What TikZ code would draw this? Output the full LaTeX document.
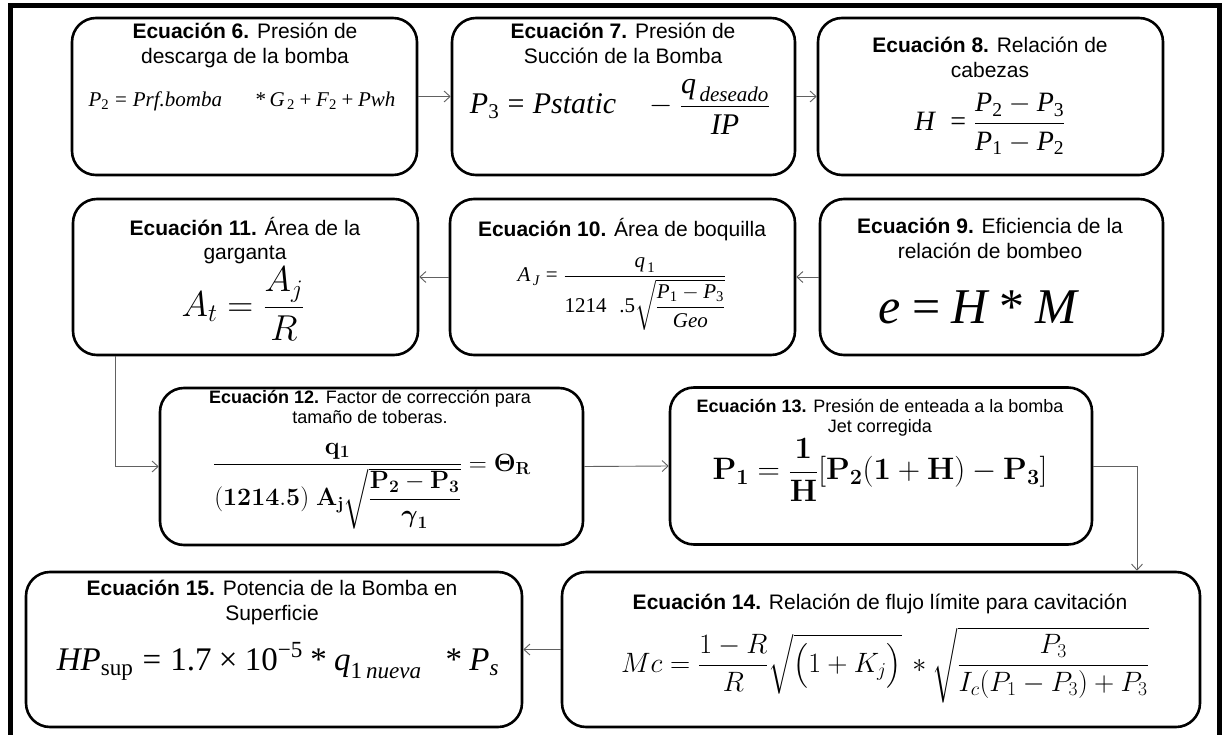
\RequirePackage{fix-cm}
\documentclass[tikz,border=0pt]{standalone}
\usepackage{amsmath}
\usepackage[no-math]{fontspec}
\setmainfont{Liberation Sans}
\newfontfamily\tms{Liberation Serif}
\usetikzlibrary{arrows.meta}
\newcommand\sz[1]{\fontsize{#1}{#1}\selectfont}
\newcommand\ti[1]{\text{\tms\itshape #1}}
\newcommand\tr[1]{\text{\tms\upshape #1}}
\tikzset{
  eqbox/.style={draw=black, line width=2.6pt, rounded corners=24pt, inner sep=0pt},
  conn/.style={draw=black!62, line width=0.9pt, -{Straight Barb[length=6pt,width=11pt]}},
  ttl/.style={align=center, anchor=north, inner sep=0pt, font=\fontsize{21}{24.5}\selectfont},
  ttlsm/.style={align=center, anchor=north, inner sep=0pt, font=\fontsize{18}{20}\selectfont},
  eq/.style={inner sep=0pt, anchor=center}
}
\begin{document}
\begin{tikzpicture}[x=1pt,y=-1pt]
\useasboundingbox (0,0) rectangle (1222,735);
\fill[white] (0,0) rectangle (1222,735);
% outer frame
\draw[line width=5pt] (10.5,740) -- (10.5,6) -- (1219.5,6) -- (1219.5,740);

% boxes
\node[eqbox, minimum width=345pt, minimum height=157pt] (b6)  at (244.5,96.5) {};
\node[eqbox, minimum width=343pt, minimum height=157pt] (b7)  at (623.5,96.5) {};
\node[eqbox, minimum width=345pt, minimum height=157pt] (b8)  at (990.5,96.5) {};
\node[eqbox, minimum width=345pt, minimum height=156pt] (b11) at (245.5,277) {};
\node[eqbox, minimum width=345pt, minimum height=156pt] (b10) at (622.5,277) {};
\node[eqbox, minimum width=343pt, minimum height=156pt] (b9)  at (991.5,277) {};
\node[eqbox, minimum width=423pt, minimum height=157pt] (b12) at (371.5,466.5) {};
\node[eqbox, minimum width=422pt, minimum height=157pt] (b13) at (881,466) {};
\node[eqbox, minimum width=638pt, minimum height=155pt] (b14) at (881,649.5) {};
\node[eqbox, minimum width=496pt, minimum height=155pt] (b15) at (274,649.5) {};

% titles
\node[ttl] (t6)  at (245,23)  {\textbf{Ecuación 6.} Presión de\\descarga de la bomba};
\node[ttl] (t7)  at (623,23)  {\textbf{Ecuación 7.} Presión de\\Succión de la Bomba};
\node[ttl] (t8)  at (990,37)  {\textbf{Ecuación 8.} Relación de\\cabezas};
\node[ttl] (t11) at (245,217) {\textbf{Ecuación 11.} Área de la\\garganta};
\node[ttl] (t10) at (622,218) {\textbf{Ecuación 10.} Área de boquilla};
\node[ttl] (t9)  at (990,218) {\textbf{Ecuación 9.} Eficiencia de la\\relación de bombeo};
\node[ttlsm] (t12) at (370,390) {\textbf{Ecuación 12.} Factor de corrección para\\tamaño de toberas.};
\node[ttlsm] (t13) at (880,399) {\textbf{Ecuación 13.} Presión de enteada a la bomba\\Jet corregida};
\node[ttl] (t14) at (880,594) {\textbf{Ecuación 14.} Relación de flujo límite para cavitación};
\node[ttl] (t15) at (272,580) {\textbf{Ecuación 15.} Potencia de la Bomba en\\Superficie};

% equations
\node[eq, font=\sz{21}] (e6) at (242,101)
  {$\ti{P}_{\tr{2}} \mathrel{\tr{=}} \ti{Prf.bomba}\hspace{1.6em}\tr{*}\,\ti{G}_{\,\tr{2}} \mathbin{\tr{+}} \ti{F}_{\tr{2}} \mathbin{\tr{+}} \ti{Pwh}$};
\node[eq, font=\sz{30}] (e7) at (620,107)
  {$\ti{P}_{\tr{3}} \mathrel{\tr{=}} \ti{Pstatic}\hspace{0.9em} - \dfrac{\ti{q}_{\,\ti{deseado}}}{\ti{IP}}$};
\node[eq, font=\sz{28}] (e8) at (990,124)
  {$\ti{H}\;\mathrel{\tr{=}}\dfrac{\ti{P}_{\tr{2}} - \ti{P}_{\tr{3}}}{\ti{P}_{\tr{1}} - \ti{P}_{\tr{2}}}$};
\node[eq, font=\sz{36}] (e11) at (243,304) {$A_t = \dfrac{A_j}{R}$};
\node[eq, font=\sz{21}] (e10) at (622,294)
  {$\ti{A}_{\,\ti{J}} \mathrel{\tr{=}} \dfrac{\ti{q}_{\,\tr{1}}}{\tr{1214\hspace{0.6em}.5}\sqrt{\dfrac{\ti{P}_{\tr{1}} - \ti{P}_{\tr{3}}}{\ti{Geo}}}}$};
\node[eq, font=\sz{50}] (e9) at (978,307) {\tms\itshape e\hspace{0.22em}{\upshape=}\hspace{0.22em}H\hspace{0.24em}{\upshape*}\hspace{0.22em}M};
\node[eq, font=\sz{25}] (e12) at (372,486)
  {$\dfrac{\mathbf{q}_{\mathbf{1}}}{\mathbf{(1214.5)}\ \mathbf{A}_{\mathbf{j}}\sqrt{\dfrac{\mathbf{P}_{\mathbf{2}} - \mathbf{P}_{\mathbf{3}}}{\boldsymbol{\gamma}_{\mathbf{1}}}}} = \mathbf{\Theta}_{\mathbf{R}}$};
\node[eq, font=\sz{31}] (e13) at (880,470)
  {$\mathbf{P}_{\mathbf{1}} = \dfrac{\mathbf{1}}{\mathbf{H}}\mathbf{[}\mathbf{P}_{\mathbf{2}}\mathbf{(1} + \mathbf{H)} - \mathbf{P}_{\mathbf{3}}\mathbf{]}$};
\node[eq, font=\sz{28}] (e14) at (885,665)
  {$Mc = \dfrac{1-R}{R}\sqrt{\bigl(1+K_j\bigr)}\, \ast \sqrt{\dfrac{P_3}{I_c(P_1-P_3)+P_3}}$};
\node[eq, font=\sz{33}] (e15) at (278,661)
  {$\ti{HP}_{\tr{sup}} \mathrel{\tr{=}} \tr{1.7}\mathbin{\tr{×}}\tr{10}^{\tr{−5}} \mathbin{\tr{*}} \ti{q}_{\tr{1}\,\ti{nueva}}\hspace{0.5em} \mathbin{\tr{*}} \ti{P}_{\ti{s}}$};

% connectors
\draw[conn] (b6.east) -- (b7.west);
\draw[conn] (b7.east) -- (b8.west);
\draw[conn] (b9.west) -- (b10.east);
\draw[conn] (b10.west) -- (b11.east);
\draw[conn] ([xshift=-130pt]b11.south) |- (b12.west);
\draw[conn] (b12.east) -- (b13.west);
\draw[conn] (b13.east) -| ([xshift=256pt]b14.north);
\draw[conn] (b14.west) -- (b15.east);
\end{tikzpicture}
\end{document}
